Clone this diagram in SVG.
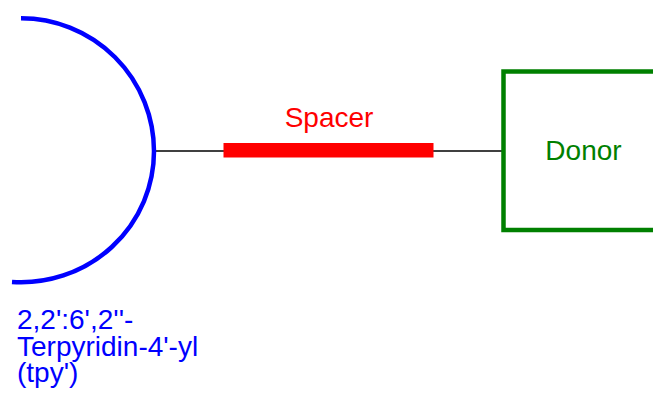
<svg xmlns="http://www.w3.org/2000/svg" width="653" height="396" viewBox="0 0 653 396">
<style>
text{font-family:"Liberation Sans",Arial,sans-serif;font-size:28px}
</style>
<rect width="653" height="396" fill="#fff"/>
<g id="connectors">
<line x1="154" y1="151" x2="503" y2="151" stroke="#000" stroke-width="1.5"/>
</g>
<g id="tpy">
<path d="M21,18.3 A133,133 0 0 1 154,151.3 A133,131 0 0 1 12,282" fill="none" stroke="#0000ff" stroke-width="4.5"/>
<text fill="#0000ff" x="17" y="329">2,2':6',2''-<tspan x="17" dy="26.5">Terpyridin-4'-yl</tspan><tspan x="17" dy="26.5">(tpy')</tspan></text>
</g>
<g id="spacer">
<rect x="223.5" y="143" width="210" height="14.5" fill="#ff0000"/>
<text fill="#ff0000" x="329" y="127" text-anchor="middle">Spacer</text>
</g>
<g id="donor">
<rect x="503.5" y="71.5" width="160" height="158.5" fill="none" stroke="#008000" stroke-width="4.5"/>
<text fill="#008000" x="583.5" y="160" text-anchor="middle">Donor</text>
</g>
</svg>
